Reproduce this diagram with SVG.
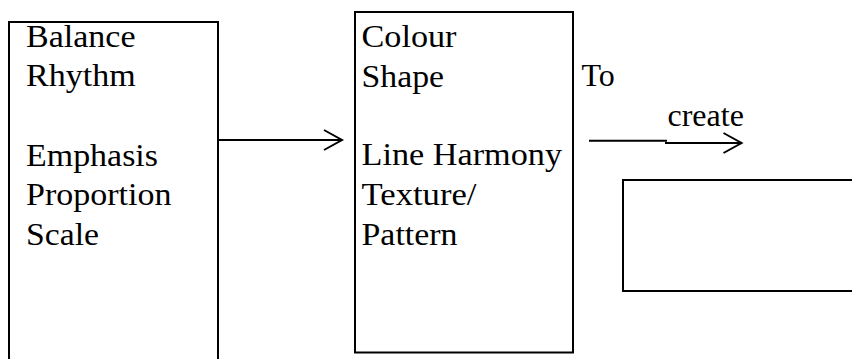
<svg xmlns="http://www.w3.org/2000/svg" width="852" height="359" viewBox="0 0 852 359">
  <style>
    .box { fill: none; stroke: #000; stroke-width: 2; }
    .wire { fill: none; stroke: #000; stroke-width: 2; }
    .txt { font-family: 'Liberation Serif', 'Times New Roman', serif; font-size: 31px; fill: #000; }
    .lbl { font-size: 32px; }
  </style>
  <defs>
    <marker id="open-arrow" markerUnits="userSpaceOnUse" markerWidth="24" markerHeight="24" viewBox="-20 -12 24 24" refX="0" refY="0" orient="auto" overflow="visible">
      <path d="M-18,-10 L0,0 L-18,10" fill="none" stroke="#000" stroke-width="2"/>
    </marker>
  </defs>
  <rect width="852" height="359" fill="#fff"/>

  <!-- principles column (open at the bottom) -->
  <g id="principles">
    <path class="box" d="M9,370 V22 H218 V370"/>
    <g class="txt" font-family="Liberation Serif, serif">
      <text x="26" y="46.8" textLength="109.5" lengthAdjust="spacingAndGlyphs">Balance</text>
      <text x="26" y="86.4" textLength="109.6" lengthAdjust="spacingAndGlyphs">Rhythm</text>
      <text x="26" y="165.6" textLength="132" lengthAdjust="spacingAndGlyphs">Emphasis</text>
      <text x="26" y="205.2" textLength="145.5" lengthAdjust="spacingAndGlyphs">Proportion</text>
      <text x="26" y="244.8" textLength="73" lengthAdjust="spacingAndGlyphs">Scale</text>
    </g>
  </g>

  <!-- elements column -->
  <g id="elements">
    <rect class="box" x="355" y="12" width="218" height="340.5"/>
    <g class="txt" font-family="Liberation Serif, serif">
      <text x="361.5" y="47.3" textLength="95" lengthAdjust="spacingAndGlyphs">Colour</text>
      <text x="361.5" y="86.7" textLength="82.5" lengthAdjust="spacingAndGlyphs">Shape</text>
      <text x="361.5" y="165.3" textLength="200.5" lengthAdjust="spacingAndGlyphs">Line Harmony</text>
      <text x="361.5" y="205" textLength="115" lengthAdjust="spacingAndGlyphs">Texture/</text>
      <text x="361.5" y="244.8" textLength="96" lengthAdjust="spacingAndGlyphs">Pattern</text>
    </g>
  </g>

  <!-- result box (runs off the right edge) -->
  <g id="result">
    <rect class="box" x="623" y="180" width="260" height="111"/>
  </g>

  <!-- connectors -->
  <g id="connectors">
    <line class="wire" x1="218" y1="140" x2="342" y2="140" marker-end="url(#open-arrow)"/>
    <line class="wire" x1="589" y1="140.7" x2="667" y2="140.7"/>
    <line class="wire" x1="665" y1="143" x2="741.5" y2="143" marker-end="url(#open-arrow)"/>
    <g class="txt lbl" font-family="Liberation Serif, serif">
      <text x="581.5" y="86">To</text>
      <text x="667.5" y="126">create</text>
    </g>
  </g>
</svg>
